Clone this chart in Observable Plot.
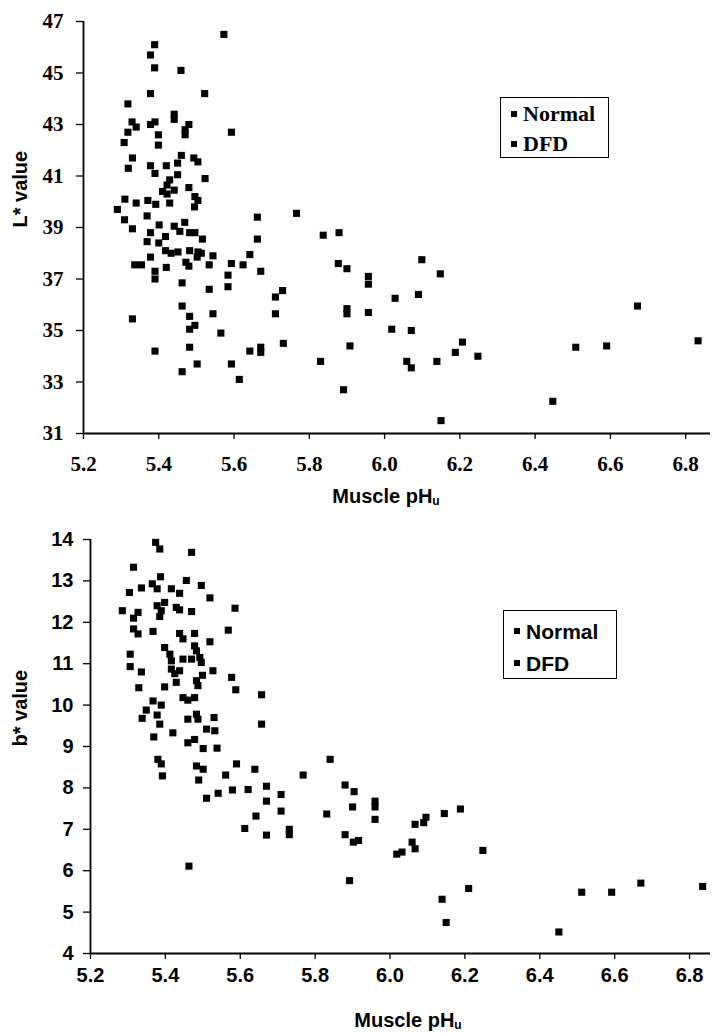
<!DOCTYPE html>
<html>
<head>
<meta charset="utf-8">
<script src="https://cdn.jsdelivr.net/npm/d3@7"></script>
<script src="https://cdn.jsdelivr.net/npm/@observablehq/plot@0.6"></script>
<style>
  html, body { margin: 0; padding: 0; background: #fff; }
  #wrap { position: relative; width: 716px; height: 1034px; overflow: hidden; }
  .chart { position: absolute; left: 0; }
  .legend { position: absolute; border: 1.5px solid #000; background: #fff; box-sizing: border-box; }
  .legend .row { position: absolute; left: 0; white-space: nowrap; }
  .legend .sw { display: inline-block; width: 6px; height: 6px; background: #000; vertical-align: middle; margin: 0 6px 0 10px; position: relative; top: -2px; }
  .xtitle { position: absolute; font-family: "Liberation Sans", Arial, sans-serif; font-weight: bold; font-size: 20px; white-space: nowrap; transform: translateX(-50%); }
  .xtitle sub { font-size: 12px; vertical-align: -2px; }
</style>
</head>
<body>
<div id="wrap"></div>
<script>
// ---------- data ----------
const xTicks = [5.2, 5.4, 5.6, 5.8, 6.0, 6.2, 6.4, 6.6, 6.8];
const topYTicks = [31, 33, 35, 37, 39, 41, 43, 45, 47];
const bottomYTicks = [4, 5, 6, 7, 8, 9, 10, 11, 12, 13, 14];
const seriesNames = ["Normal", "DFD"];
const xTitle = "Muscle pH";
const xTitleSub = "u";
const topYTitle = "L* value";
const bottomYTitle = "b* value";

// [muscle pHu, L* value]
const topNormal = [
  [5.573,46.5],[5.389,46.1],[5.378,45.7],[5.389,45.2],[5.459,45.1],[5.378,44.2],[5.522,44.2],
  [5.318,43.8],[5.441,43.4],[5.441,43.2],[5.329,43.1],[5.340,42.9],[5.378,43.0],[5.390,43.1],
  [5.480,43.0],[5.318,42.7],[5.470,42.8],[5.470,42.6],[5.593,42.7],[5.399,42.6],[5.308,42.3],
  [5.399,42.2],[5.330,41.7],[5.460,41.8],[5.493,41.7],[5.504,41.55],[5.319,41.3],[5.378,41.4],
  [5.420,41.4],[5.450,41.5],[5.390,41.1],[5.450,41.05],[5.523,40.9],[5.429,40.85],[5.422,40.65],
  [5.410,40.4],[5.441,40.45],[5.480,40.55],[5.310,40.1],[5.340,39.95],[5.371,40.05],[5.392,39.9],
  [5.422,40.3],[5.429,39.95],[5.496,40.2],[5.504,40.05],[5.495,39.8],[5.290,39.7],[5.309,39.3],
  [5.369,39.45],[5.401,39.1],[5.469,39.2],[5.441,39.05],[5.456,38.85],[5.496,38.8],[5.482,38.8],
  [5.330,38.95],[5.378,38.8],[5.418,38.65],[5.662,39.4],[5.766,39.55],[5.662,38.55],[5.516,38.55],
  [5.369,38.45],[5.400,38.4],[5.418,38.1],[5.433,38.0],[5.451,38.05],[5.482,38.1],[5.504,38.05],
  [5.513,38.0],[5.502,37.85],[5.544,37.9],[5.642,37.95],[5.336,37.55],[5.354,37.55],[5.378,37.85],
  [5.390,37.3],[5.390,37.0],[5.420,37.45],[5.472,37.65],[5.480,37.5],[5.534,37.55],[5.593,37.6],
  [5.624,37.55],[5.671,37.3],[5.584,37.15],[5.462,36.85],[5.534,36.6],[5.584,36.7],[5.710,36.3],
  [5.729,36.55],[5.710,35.65],[5.462,35.95],[5.330,35.45],[5.482,35.55],[5.544,35.65],[5.482,35.05],
  [5.496,35.2],[5.565,34.9],[5.482,34.35],[5.390,34.2],[5.642,34.2],[5.671,34.35],[5.671,34.15],
  [5.731,34.5],[5.502,33.7],[5.593,33.7],[5.462,33.4],[5.614,33.1],[5.837,38.7],[5.879,38.8],
  [5.877,37.6],[5.900,37.4],[5.957,37.1],[5.957,36.8],[5.900,35.85],[5.900,35.65],[5.957,35.7],
  [5.908,34.4],[5.830,33.8],[5.891,32.7]
];
const topDFD = [
  [6.099,37.75],[6.148,37.2],[6.028,36.25],[6.090,36.4],[6.672,35.95],[6.019,35.05],[6.071,35.0],
  [6.059,33.8],[6.071,33.55],[6.139,33.8],[6.188,34.15],[6.207,34.55],[6.248,34.0],[6.150,31.5],
  [6.447,32.25],[6.508,34.35],[6.590,34.4],[6.833,34.6]
];

// [muscle pHu, b* value]
const bottomNormal = [
  [5.374,13.93],[5.385,13.77],[5.470,13.69],[5.315,13.33],[5.387,13.10],[5.456,13.01],[5.496,12.89],
  [5.304,12.72],[5.336,12.83],[5.365,12.93],[5.378,12.81],[5.416,12.81],[5.438,12.70],[5.519,12.59],
  [5.285,12.28],[5.315,12.10],[5.327,12.24],[5.378,12.40],[5.389,12.28],[5.385,12.14],[5.398,12.48],
  [5.429,12.36],[5.438,12.30],[5.470,12.26],[5.586,12.34],[5.315,11.84],[5.327,11.72],[5.367,11.78],
  [5.438,11.73],[5.447,11.60],[5.478,11.73],[5.568,11.81],[5.519,11.53],[5.306,11.23],[5.398,11.39],
  [5.412,11.23],[5.478,11.43],[5.483,11.31],[5.416,11.07],[5.447,11.11],[5.470,11.11],[5.492,11.15],
  [5.496,11.03],[5.306,10.93],[5.416,10.87],[5.425,10.76],[5.438,10.83],[5.336,10.80],[5.527,10.83],
  [5.499,10.72],[5.577,10.67],[5.483,10.59],[5.487,10.47],[5.429,10.55],[5.329,10.42],[5.398,10.44],
  [5.588,10.37],[5.657,10.25],[5.447,10.18],[5.460,10.12],[5.478,10.18],[5.367,10.10],[5.389,10.00],
  [5.349,9.88],[5.338,9.68],[5.378,9.76],[5.385,9.54],[5.460,9.66],[5.487,9.66],[5.483,9.78],
  [5.530,9.70],[5.510,9.42],[5.532,9.38],[5.420,9.33],[5.369,9.23],[5.657,9.54],[5.460,9.09],
  [5.478,9.17],[5.501,8.95],[5.538,8.96],[5.380,8.69],[5.389,8.58],[5.392,8.29],[5.483,8.53],
  [5.501,8.45],[5.590,8.58],[5.639,8.45],[5.489,8.19],[5.561,8.31],[5.510,7.75],[5.541,7.87],
  [5.579,7.95],[5.621,7.96],[5.670,8.04],[5.709,7.84],[5.670,7.68],[5.709,7.44],[5.642,7.32],
  [5.612,7.02],[5.670,6.86],[5.731,7.00],[5.731,6.87],[5.463,6.11],[5.840,8.69],[5.768,8.31],
  [5.880,8.07],[5.904,7.91],[5.900,7.54],[5.960,7.68],[5.960,7.54],[5.960,7.24],[5.831,7.37],
  [5.880,6.87],[5.902,6.69],[5.916,6.73],[5.892,5.76]
];
const bottomDFD = [
  [6.018,6.40],[6.032,6.45],[6.059,6.69],[6.067,6.53],[6.067,7.12],[6.090,7.16],[6.096,7.29],
  [6.145,7.38],[6.188,7.49],[6.248,6.49],[6.139,5.31],[6.210,5.57],[6.150,4.75],[6.451,4.52],
  [6.512,5.48],[6.592,5.48],[6.670,5.70],[6.835,5.62]
];

// ---------- drawing ----------
const SERIF = "'Liberation Serif', 'Times New Roman', serif";
const SANS = "'Liberation Sans', Arial, sans-serif";
const wrap = document.getElementById("wrap");

function scatter(opts) {
  const svg = Plot.plot({
    width: 716,
    height: opts.height,
    marginLeft: opts.marginLeft,
    marginRight: opts.marginRight,
    marginTop: opts.marginTop,
    marginBottom: opts.marginBottom,
    style: {background: "white", color: "black", fontWeight: "bold", fontSize: "20px", overflow: "visible"},
    x: {domain: opts.xDomain},
    y: {domain: opts.yDomain},
    marks: [
      Plot.axisX({ticks: xTicks, tickFormat: d => d.toFixed(1), tickSize: 6, tickPadding: opts.xPad,
        fontWeight: "bold", fontSize: opts.tickSize, strokeWidth: 1.3, label: null}),
      Plot.axisY({ticks: opts.yTicks, tickFormat: d => String(d), tickSize: 7, tickPadding: opts.yPad,
        fontWeight: "bold", fontSize: opts.tickSize, strokeWidth: 1.3, label: null}),
      Plot.ruleY([opts.yDomain[0]], {stroke: "black", strokeWidth: 1.8}),
      Plot.ruleX([opts.xDomain[0]], {stroke: "black", strokeWidth: 1.8}),
      Plot.dot(opts.normal, {x: d => d[0], y: d => d[1], symbol: "square", r: 4, fill: "black"}),
      Plot.dot(opts.dfd, {x: d => d[0], y: d => d[1], symbol: "square", r: 4, fill: "black"}),
      Plot.text([opts.yTitle], {text: d => d, frameAnchor: "left", dx: opts.yTitleDx, rotate: -90,
        fontWeight: "bold", fontSize: 20})
    ]
  });
  // fonts: tick labels in the chart's tick font, the y title in sans
  d3.select(svg).selectAll("text").each(function() {
    const isTitle = this.textContent === opts.yTitle;
    this.setAttribute("font-family", isTitle ? SANS : opts.tickFont);
    this.style.fontFamily = isTitle ? SANS : opts.tickFont;
    this.style.fontWeight = "bold";
  });
  return svg;
}

function place(el, y0) {
  el.classList.add("chart");
  el.style.top = y0 + "px";
  wrap.appendChild(el);
}

const topChart = scatter({
  height: 490, marginLeft: 83, marginRight: 6, marginTop: 21, marginBottom: 57,
  xDomain: [5.2, 6.866], yDomain: [31, 47], yTicks: topYTicks,
  xPad: 17, yPad: 13, tickFont: SERIF, tickSize: 21,
  normal: topNormal, dfd: topDFD, yTitle: topYTitle, yTitleDx: -63
});
place(topChart, 0);

const bottomChart = scatter({
  height: 539, marginLeft: 90, marginRight: 6, marginTop: 44, marginBottom: 81,
  xDomain: [5.2, 6.856], yDomain: [4, 14], yTicks: bottomYTicks,
  xPad: 8, yPad: 10, tickFont: SANS, tickSize: 20,
  normal: bottomNormal, dfd: bottomDFD, yTitle: bottomYTitle, yTitleDx: -70
});
place(bottomChart, 495);

function legend(left, y0, w, h, font, size, rowTops) {
  const box = document.createElement("div");
  box.className = "legend";
  Object.assign(box.style, {left: left + "px", top: y0 + "px", width: w + "px", height: h + "px",
    fontFamily: font, fontWeight: "bold", fontSize: size + "px"});
  seriesNames.forEach((name, i) => {
    const row = document.createElement("div");
    row.className = "row";
    row.style.top = rowTops[i] + "px";
    row.style.lineHeight = size + "px";
    const sw = document.createElement("span");
    sw.className = "sw";
    row.appendChild(sw);
    row.appendChild(document.createTextNode(name));
    box.appendChild(row);
  });
  wrap.appendChild(box);
}
legend(500, 97, 109, 61, SERIF, 22, [5, 35]);
legend(503, 610, 114, 69, SANS, 21, [10, 42]);

function xtitle(cx, cy) {
  const t = document.createElement("div");
  t.className = "xtitle";
  t.style.left = cx + "px";
  t.style.top = (cy - 12) + "px";
  t.innerHTML = xTitle + "<sub>" + xTitleSub + "</sub>";
  wrap.appendChild(t);
}
xtitle(386, 497);
xtitle(408, 1021);
</script>
</body>
</html>
